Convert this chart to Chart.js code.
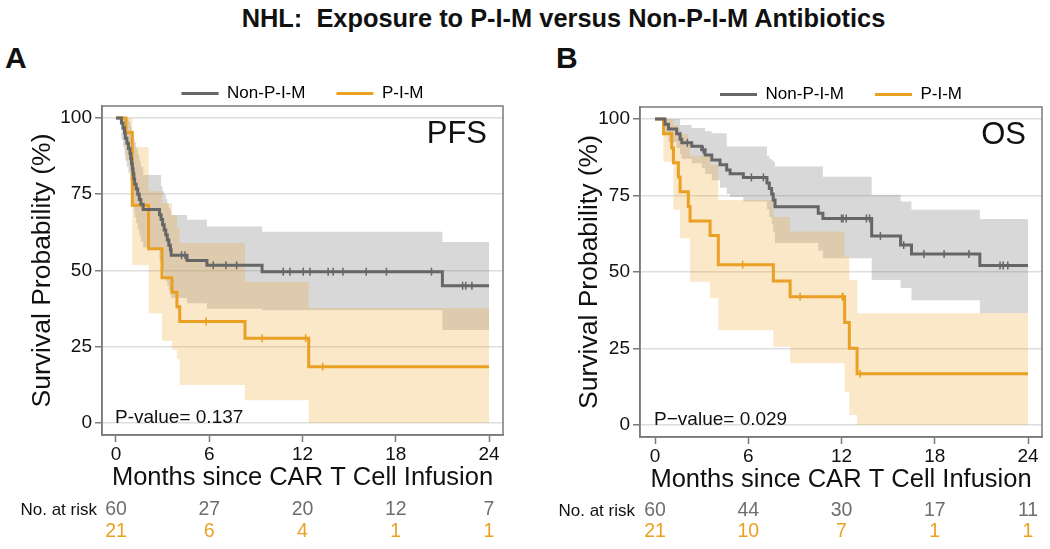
<!DOCTYPE html>
<html>
<head>
<meta charset="utf-8">
<script src="https://cdn.jsdelivr.net/npm/chart.js@4.4.1/dist/chart.umd.min.js"></script>
<style>
  html, body { margin: 0; padding: 0; background: #fff; }
  body { width: 1050px; height: 549px; position: relative; overflow: hidden; font-family: 'Liberation Sans', Arial, sans-serif; color: #111; }
  #title { position: absolute; top: 4px; left: 0; width: 1127px; text-align: center; font-weight: bold; font-size: 25.4px; white-space: pre; }
  .tag { position: absolute; top: 41px; font-weight: bold; font-size: 30px; line-height: normal; }
  .panel { position: absolute; top: 0; width: 525px; height: 549px; }
</style>
</head>
<body>
<div id="title">NHL:  Exposure to P-I-M versus Non-P-I-M Antibiotics</div>
<div class="tag" style="left:5px">A</div>
<div class="tag" style="left:556px">B</div>
<div class="panel" style="left:0"><canvas id="pfs"></canvas></div>
<div class="panel" style="left:525px"><canvas id="os"></canvas></div>
<script>
const monthTicks = [0, 6, 12, 18, 24];
const survTicks = [0, 25, 50, 75, 100];
const groupNames = ["Non-P-I-M", "P-I-M"];

// panel A, progression-free survival
const pfsNonTime = [0, 0.35, 0.45, 0.55, 0.6, 0.7, 0.8, 0.9, 0.95, 1.0, 1.05, 1.1, 1.15, 1.2, 1.3, 1.4, 1.5, 1.6, 1.75, 2.8, 2.9, 3.0, 3.1, 3.2, 3.3, 3.4, 3.5, 3.55, 4.57, 5.85, 9.4, 21.0, 24];
const pfsNonSurv = [100, 98.3, 96.7, 95, 93.3, 91.7, 90, 88.3, 86.7, 85, 83.3, 81.7, 80, 78.3, 76.7, 75, 73.3, 71.7, 70, 68.3, 66.7, 65, 63.3, 61.7, 60, 58.3, 56.7, 55, 53.3, 51.7, 49.6, 45, 45];
const pfsNonLow = [100, 93, 90.5, 88, 86, 84, 82, 79.5, 77.5, 75.5, 73.5, 71.5, 69.5, 67.5, 65.5, 63.5, 61.5, 59.5, 57.5, 53, 51.5, 50, 48, 46.5, 45, 43.5, 42, 41, 39.3, 37.5, 37, 30.5, 30.5];
const pfsNonHigh = [100, 100, 100, 100, 100, 100, 99, 98, 97, 96, 95, 94, 93, 92, 90, 88, 86, 84, 81.3, 81.3, 77.5, 76, 75, 73.5, 72, 70.5, 69.5, 68.2, 66.6, 64.4, 62.7, 59.3, 59.3];
const pfsNonCensor = [4.22, 4.44, 6.26, 7.07, 7.76, 10.76, 11.19, 12.05, 12.48, 13.65, 13.97, 14.6, 16.1, 17.4, 20.3, 22.3, 22.5, 22.9];

const pfsPimTime = [0, 0.64, 1.05, 2.1, 2.96, 3.6, 3.92, 4.1, 8.3, 12.4, 24];
const pfsPimSurv = [100, 95.2, 71.4, 57.1, 47.6, 42.9, 38.1, 33.3, 27.8, 18.5, 18.5];
const pfsPimLow = [100, 86, 51.8, 36, 27, 24, 21, 12.5, 7.5, 0, 0];
const pfsPimHigh = [100, 100, 90.5, 76, 72, 68, 64, 59, 46.3, 37.7, 37.7];
const pfsPimCensor = [5.8, 9.4, 12.2, 13.3];

const pfsRiskNon = [60, 27, 20, 12, 7];
const pfsRiskPim = [21, 6, 4, 1, 1];

// panel B, overall survival
const osNonTime = [0, 0.64, 0.86, 1.39, 1.61, 1.72, 2.36, 3.0, 3.22, 3.65, 4.18, 4.61, 4.83, 5.68, 7.2, 7.35, 7.5, 7.6, 7.72, 10.5, 10.8, 13.94, 15.8, 16.5, 20.9, 24];
const osNonSurv = [100, 98.3, 96.7, 95.2, 93.4, 92.2, 91.1, 89.9, 88.2, 86.6, 85, 83.3, 82.1, 80.9, 79.1, 77.3, 75.5, 73.5, 71.3, 69.2, 67.5, 61.8, 58.8, 55.9, 52.1, 52.1];
const osNonLow = [100, 95, 92.5, 90.5, 88.5, 87, 85.5, 84, 82, 80, 77.5, 75.5, 74.5, 73, 70.5, 68, 65.5, 63, 59.5, 57, 54.5, 47.4, 44.8, 40.8, 36.5, 36.5];
const osNonHigh = [100, 100, 100, 100, 98, 98, 97, 97, 96, 95.3, 95.3, 91, 91, 91, 88, 87, 86.5, 86, 84.5, 84.5, 81.1, 75.2, 73, 70.3, 67.3, 67.3];
const osNonCensor = [2.08, 3.1, 6.2, 6.97, 12.0, 12.1, 12.3, 13.6, 13.8, 14.5, 16.0, 17.3, 18.6, 20.2, 22.2, 22.4, 22.7];

const osPimTime = [0, 0.54, 1.07, 1.18, 1.5, 1.61, 2.14, 2.25, 3.54, 4.07, 7.61, 8.69, 12.2, 12.5, 13.0, 24];
const osPimSurv = [100, 95.2, 90.5, 85.7, 81.0, 76.2, 71.4, 66.7, 61.9, 52.4, 47.1, 41.9, 33.5, 25.1, 16.8, 16.8];
const osPimLow = [100, 86, 86, 70.3, 70.3, 61, 61, 46.8, 41.5, 31, 25.6, 20.2, 10.9, 3.3, 0, 0];
const osPimHigh = [100, 100, 100, 98, 97, 95, 92, 88, 85, 73.5, 68, 63.2, 55, 47.4, 36.5, 36.5];
const osPimCensor = [5.64, 9.33, 12.05, 12.1, 13.2];

const osRiskNon = [60, 44, 30, 17, 11];
const osRiskPim = [21, 10, 7, 1, 1];

const GRAY = "#666666";
const ORANGE = "#e9a023";
const GRAY_BAND = "rgba(110,110,115,0.27)";
const ORANGE_BAND = "rgba(240,165,40,0.25)";
const AXIS = "#7a7a7a";
const FONT = "'Liberation Sans', Arial, sans-serif";

Chart.defaults.font.family = FONT;
Chart.defaults.color = "#111";

const pts = (t, v) => t.map((x, i) => ({ x, y: v[i] }));

// censor marks sit on the curve level in force at that time
function censorPts(times, t, v) {
  return times.map((x) => {
    let k = 0;
    while (k + 1 < t.length && t[k + 1] <= x) k++;
    return { x, y: v[k] };
  });
}

function curve(label, data, color) {
  return { label, data, borderColor: color, backgroundColor: color, borderWidth: 3, stepped: true, pointRadius: 0, pointHoverRadius: 0, fill: false, order: 0 };
}

function censor(data, color) {
  return { label: "censor", data, showLine: false, pointStyle: "line", pointRotation: 90, pointRadius: 4, pointHoverRadius: 4, pointBorderColor: color, pointBorderWidth: 1.5, order: 1 };
}

function band(data, colour, fill, order) {
  return { label: "band", data, borderColor: "rgba(0,0,0,0)", borderWidth: 0, backgroundColor: colour, stepped: true, pointRadius: 0, pointHoverRadius: 0, fill, order };
}

function extras(cfg) {
  return {
    id: "extras",
    afterDraw(chart) {
      const { ctx, chartArea: a, scales: { x, y } } = chart;
      ctx.save();
      ctx.strokeStyle = AXIS;
      ctx.lineWidth = 1.5;
      ctx.strokeRect(a.left, a.top, a.right - a.left, a.bottom - a.top);

      ctx.fillStyle = "#111";
      ctx.font = "31px " + FONT;
      ctx.textAlign = "right";
      ctx.textBaseline = "alphabetic";
      ctx.fillText(cfg.endpoint, a.right - 16, a.top + 37);

      ctx.font = "19px " + FONT;
      ctx.textAlign = "left";
      ctx.fillText(cfg.pText, x.getPixelForValue(0) - 1, y.getPixelForValue(0));

      ctx.textBaseline = "middle";
      ctx.font = "17px " + FONT;
      ctx.textAlign = "right";
      ctx.fillText("No. at risk", cfg.riskLabelX, cfg.riskY[0]);
      ctx.font = "19.5px " + FONT;
      ctx.textAlign = "center";
      monthTicks.forEach((m, i) => {
        const px = x.getPixelForValue(m);
        ctx.fillStyle = "#6e6e6e";
        ctx.fillText(String(cfg.riskNon[i]), px, cfg.riskY[0]);
        ctx.fillStyle = ORANGE;
        ctx.fillText(String(cfg.riskPim[i]), px, cfg.riskY[1]);
      });
      ctx.restore();
    },
  };
}

function drawPanel(id, cfg) {
  return new Chart(document.getElementById(id), {
    type: "line",
    data: {
      datasets: [
        curve(groupNames[0], pts(cfg.non.time, cfg.non.surv), GRAY),
        curve(groupNames[1], pts(cfg.pim.time, cfg.pim.surv), ORANGE),
        censor(censorPts(cfg.non.censor, cfg.non.time, cfg.non.surv), GRAY),
        censor(censorPts(cfg.pim.censor, cfg.pim.time, cfg.pim.surv), ORANGE),
        band(pts(cfg.non.time, cfg.non.high), GRAY_BAND, "+1", 3),
        band(pts(cfg.non.time, cfg.non.low), GRAY_BAND, false, 3),
        band(pts(cfg.pim.time, cfg.pim.high), ORANGE_BAND, "+1", 2),
        band(pts(cfg.pim.time, cfg.pim.low), ORANGE_BAND, false, 2),
      ],
    },
    options: {
      responsive: true,
      maintainAspectRatio: false,
      animation: false,
      events: [],
      layout: { padding: cfg.padding },
      plugins: {
        legend: {
          position: "top",
          fullSize: false,
          maxHeight: 52,
          labels: {
            font: { size: 17 },
            color: "#111",
            boxWidth: 37,
            boxHeight: 3,
            padding: 31,
            generateLabels: (chart) =>
              chart.data.datasets.slice(0, 2).map((ds, i) => ({
                text: ds.label,
                fillStyle: ds.borderColor,
                strokeStyle: ds.borderColor,
                lineWidth: 0,
                hidden: false,
                datasetIndex: i,
              })),
          },
        },
        tooltip: { enabled: false },
      },
      scales: {
        x: {
          type: "linear",
          min: cfg.xMin,
          max: 24.9,
          afterBuildTicks: (s) => { s.ticks = monthTicks.map((v) => ({ value: v })); },
          afterFit: (s) => { s.height = 60; },
          grid: { drawOnChartArea: false, tickLength: 7, tickColor: AXIS, tickWidth: 1.5 },
          border: { color: AXIS, width: 1.5 },
          ticks: { font: { size: 19 }, color: "#111", padding: 1, maxRotation: 0, autoSkip: false },
          title: { display: true, text: "Months since CAR T Cell Infusion", font: { size: 25.5 }, color: "#111", padding: { top: 0, bottom: 2 } },
        },
        y: {
          min: -3.9,
          max: 103.9,
          afterBuildTicks: (s) => { s.ticks = survTicks.map((v) => ({ value: v })); },
          afterFit: (s) => { s.width = cfg.yWidth; },
          grid: { color: "#dedede", lineWidth: 1.5, tickLength: 7, tickColor: AXIS, tickWidth: 1.5 },
          border: { color: AXIS, width: 1.5 },
          ticks: { font: { size: 19 }, color: "#111", padding: 3 },
          title: { display: true, text: "Survival Probability (%)", font: { size: 26.5 }, color: "#111", padding: { top: cfg.yTitlePad, bottom: 0 } },
        },
      },
    },
    plugins: [extras(cfg)],
  });
}

drawPanel("pfs", {
  non: { time: pfsNonTime, surv: pfsNonSurv, low: pfsNonLow, high: pfsNonHigh, censor: pfsNonCensor },
  pim: { time: pfsPimTime, surv: pfsPimSurv, low: pfsPimLow, high: pfsPimHigh, censor: pfsPimCensor },
  riskNon: pfsRiskNon,
  riskPim: pfsRiskPim,
  endpoint: "PFS",
  pText: "P-value= 0.137",
  padding: { top: 54, left: 20, right: 22, bottom: 54 },
  yWidth: 82,
  yTitlePad: 7,
  xMin: -0.9,
  riskLabelX: 97,
  riskY: [510, 532],
});

drawPanel("os", {
  non: { time: osNonTime, surv: osNonSurv, low: osNonLow, high: osNonHigh, censor: osNonCensor },
  pim: { time: osPimTime, surv: osPimSurv, low: osPimLow, high: osPimHigh, censor: osPimCensor },
  riskNon: osRiskNon,
  riskPim: osRiskPim,
  endpoint: "OS",
  pText: "P\u2212value= 0.029",
  padding: { top: 55, left: 40, right: 8, bottom: 52 },
  yWidth: 75,
  yTitlePad: 9,
  xMin: -0.97,
  riskLabelX: 110,
  riskY: [511, 532],
});
</script>
</body>
</html>
